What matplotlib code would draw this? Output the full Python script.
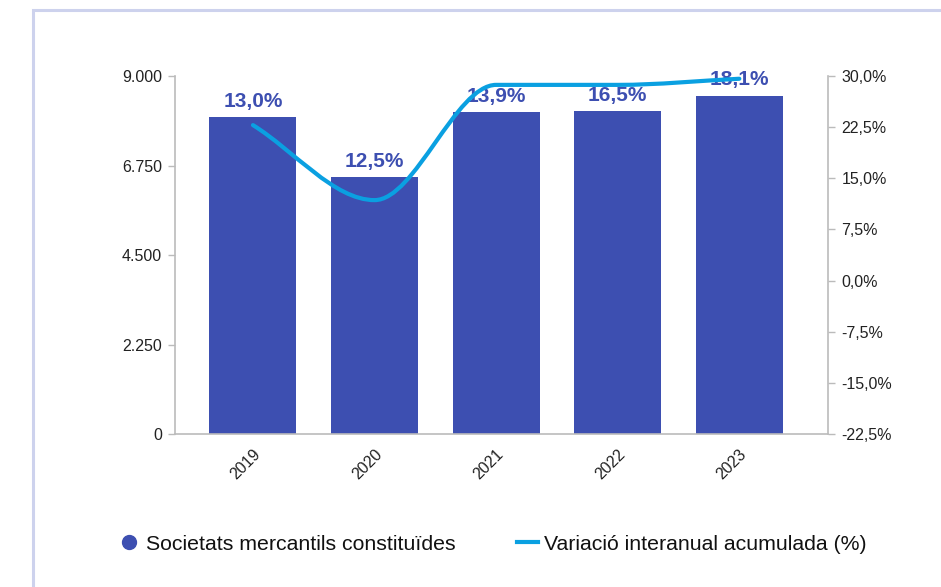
import matplotlib
matplotlib.use("Agg")
import matplotlib.pyplot as plt
import matplotlib.transforms as mtransforms
from matplotlib.path import Path
from matplotlib.patches import PathPatch, Rectangle
from matplotlib.lines import Line2D
from matplotlib.ticker import FuncFormatter

plt.rcParams['font.family'] = ['Liberation Sans', 'DejaVu Sans']

years = ["2019", "2020", "2021", "2022", "2023"]
societats = [7970, 6455, 8095, 8120, 8500]
variacio = [22.8, 11.8, 28.7, 28.7, 29.6]
bar_labels = ["13,0%", "12,5%", "13,9%", "16,5%", "18,1%"]

BAR_COLOR = "#3d4fb1"
LINE_COLOR = "#0aa0e1"
AXIS_COLOR = "#bbbbbb"


def monotone_path(xs, ys):
    # cubic bezier through the points, Fritsch-Carlson style tangents
    n = len(xs)
    d = [(ys[i + 1] - ys[i]) / (xs[i + 1] - xs[i]) for i in range(n - 1)]
    m = [d[0]] + [0.0] * (n - 2) + [d[-1]]
    for i in range(1, n - 1):
        if d[i - 1] * d[i] > 0:
            m[i] = (d[i - 1] + d[i]) / 2
    verts = [(xs[0], ys[0])]
    codes = [Path.MOVETO]
    for i in range(n - 1):
        h = xs[i + 1] - xs[i]
        verts += [(xs[i] + h / 3, ys[i] + m[i] * h / 3),
                  (xs[i + 1] - h / 3, ys[i + 1] - m[i + 1] * h / 3),
                  (xs[i + 1], ys[i + 1])]
        codes += [Path.CURVE4] * 3
    return Path(verts, codes)


fig = plt.figure(figsize=(9.41, 5.87), dpi=100)
ax = fig.add_axes([0.186, 0.2606, 0.694, 0.6099])
ax2 = ax.twinx()

x = list(range(len(years)))
bars = ax.bar(x, societats, width=0.715, color=BAR_COLOR, zorder=2)
for b, lab in zip(bars, bar_labels):
    ax.annotate(lab, (b.get_x() + b.get_width() / 2, b.get_height()),
                xytext=(0, 7.5), textcoords="offset points",
                ha="center", va="baseline", fontsize=15, fontweight="bold",
                color=BAR_COLOR, zorder=3)

ax.set_xlim(-0.641, 4.73)
ax.set_ylim(0, 9000)
ax.set_yticks([0, 2250, 4500, 6750, 9000])
ax.yaxis.set_major_formatter(FuncFormatter(lambda v, p: f"{int(v):,}".replace(",", ".")))

ax2.set_ylim(-22.5, 30)
ax2.set_yticks([-22.5, -15, -7.5, 0, 7.5, 15, 22.5, 30])
ax2.yaxis.set_major_formatter(FuncFormatter(lambda v, p: f"{v:.1f}%".replace(".", ",")))
ax2.add_patch(PathPatch(monotone_path(x, variacio), fill=False,
                        edgecolor=LINE_COLOR, linewidth=3, capstyle="round",
                        zorder=4))

for a in (ax, ax2):
    a.patch.set_visible(False)
    a.spines["top"].set_visible(False)
    for s in ("left", "right", "bottom"):
        a.spines[s].set_color(AXIS_COLOR)
        a.spines[s].set_linewidth(1.2)
    a.tick_params(axis="y", length=5, width=1, color=AXIS_COLOR,
                  labelsize=11.5, labelcolor="#222222", pad=4.5)

ax.spines["right"].set_visible(False)
ax2.spines["left"].set_visible(False)
ax2.spines["bottom"].set_visible(False)

ax.set_xticks(x, labels=years)
ax.tick_params(axis="x", length=0, pad=13, labelsize=11.5, labelcolor="#222222")
offset = mtransforms.ScaledTranslation(5 / 100, 0, fig.dpi_scale_trans)
for t in ax.get_xticklabels():
    t.set_rotation(45)
    t.set_ha("right")
    t.set_va("center")
    t.set_rotation_mode("anchor")
    t.set_transform(t.get_transform() + offset)

handles = [Line2D([], [], color=BAR_COLOR, marker="o", linestyle="none", markersize=10),
           Line2D([], [], color=LINE_COLOR, linewidth=3)]
fig.legend(handles, ["Societats mercantils constituïdes", "Variació interanual acumulada (%)"],
           loc="center left", bbox_to_anchor=(118 / 941, 1 - 544 / 587),
           ncol=2, frameon=False, fontsize=15.3, handlelength=1.0,
           handletextpad=0.3, columnspacing=2.9, borderpad=0, borderaxespad=0,
           labelcolor="#111111")

fig.patches.append(Rectangle((33 / 941, -0.2), 2, 1.2 - 9.5 / 587,
                             transform=fig.transFigure, fill=False,
                             edgecolor="#cdd2ed", linewidth=2.2))

fig.savefig("out.png", dpi=100)
